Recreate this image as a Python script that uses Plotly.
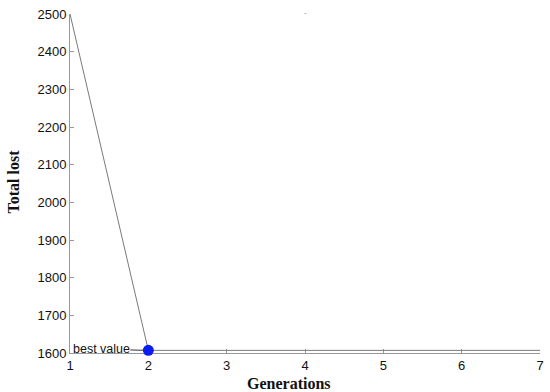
import plotly.graph_objects as go

generations = [1, 2, 3, 4, 5, 6, 7]
total_lost = [2500, 1607, 1607, 1607, 1607, 1607, 1607]
y_ticks = [1600, 1700, 1800, 1900, 2000, 2100, 2200, 2300, 2400, 2500]
x_ticks = [1, 2, 3, 4, 5, 6, 7]

best_idx = total_lost.index(min(total_lost))
best_x = generations[best_idx]
best_y = total_lost[best_idx]

fig = go.Figure()
fig.add_trace(go.Scatter(x=generations, y=total_lost, mode="lines",
                         line=dict(color="#7a7a7a", width=1), showlegend=False,
                         cliponaxis=False, hoverinfo="skip"))
fig.add_trace(go.Scatter(x=[best_x], y=[best_y], mode="markers",
                         marker=dict(color="#0a1cf0", size=11), showlegend=False,
                         cliponaxis=False, hoverinfo="skip"))

fig.add_annotation(x=best_x, y=best_y, text="best value", showarrow=True,
                   arrowhead=0, arrowwidth=1, arrowcolor="#333333",
                   ax=-47, ay=-1, standoff=4, borderpad=0,
                   font=dict(family="Liberation Sans, Arial", size=12.5, color="#111111"))
fig.add_annotation(x=0.5, y=1.0, xref="paper", yref="paper", yshift=8,
                   text="-", showarrow=False,
                   font=dict(family="Liberation Sans, Arial", size=8, color="#888888"))

title_font = dict(family="Liberation Serif, Times New Roman, serif", size=16, color="#111111")
fig.add_annotation(x=0.5, y=0, xref="paper", yref="paper", xshift=-16, yshift=-30,
                   xanchor="center", yanchor="middle",
                   text="<b>Generations</b>", showarrow=False, font=title_font)
fig.add_annotation(x=0, y=0.5, xref="paper", yref="paper", xshift=-57, yshift=2,
                   xanchor="center", yanchor="middle",
                   text="<b>Total lost</b>", showarrow=False, textangle=-90, font=title_font)

axis_font = dict(family="Liberation Sans, Arial", size=13, color="#111111")

fig.update_layout(
    width=550, height=392,
    margin=dict(l=70, r=10, t=14, b=39),
    paper_bgcolor="white", plot_bgcolor="white",
    xaxis=dict(range=[1, 7], tickvals=x_ticks, ticks="inside", ticklen=4,
               tickcolor="#999999", showline=True, linecolor="#999999",
               linewidth=1, showgrid=False, zeroline=False, tickfont=axis_font,
               automargin=False, layer="below traces"),
    yaxis=dict(range=[1600, 2500], tickvals=y_ticks, ticks="inside", ticklen=4,
               tickcolor="#999999", showline=True, linecolor="#999999",
               linewidth=1, showgrid=False, zeroline=False, tickfont=axis_font,
               automargin=False, layer="below traces"),
)

fig.write_html("out.html", config={"displayModeBar": False},
               post_script="document.body.style.margin='0';")
